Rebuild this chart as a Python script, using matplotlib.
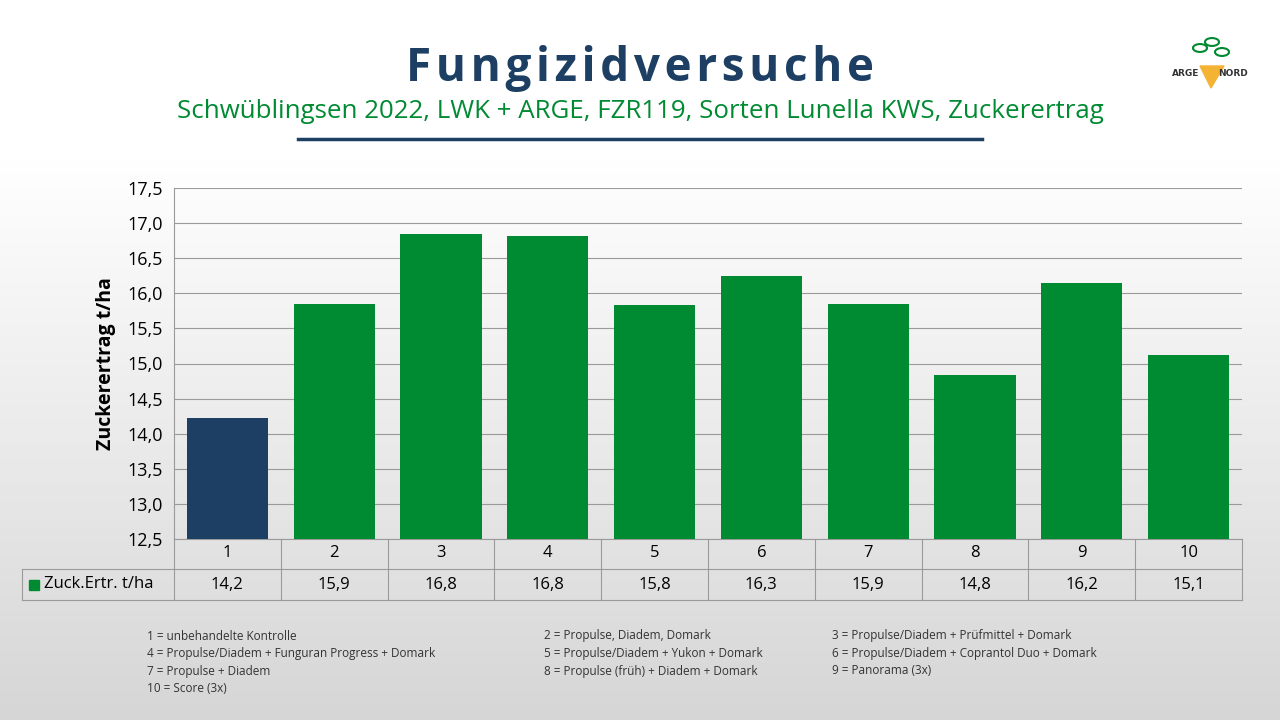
import numpy as np
import matplotlib.pyplot as plt
from matplotlib.lines import Line2D
from matplotlib.patches import Rectangle, Polygon, Circle

categories = ['1', '2', '3', '4', '5', '6', '7', '8', '9', '10']
ertrag = [14.23, 15.85, 16.85, 16.82, 15.84, 16.25, 15.85, 14.83, 16.15, 15.12]
table_labels = ['14,2', '15,9', '16,8', '16,8', '15,8', '16,3', '15,9', '14,8', '16,2', '15,1']
yticks = [12.5, 13.0, 13.5, 14.0, 14.5, 15.0, 15.5, 16.0, 16.5, 17.0, 17.5]
notes = [
    ['1 = unbehandelte Kontrolle', '2 = Propulse, Diadem, Domark', '3 = Propulse/Diadem + Prüfmittel + Domark'],
    ['4 = Propulse/Diadem + Funguran Progress + Domark', '5 = Propulse/Diadem + Yukon + Domark', '6 = Propulse/Diadem + Coprantol Duo + Domark'],
    ['7 = Propulse + Diadem', '8 = Propulse (früh) + Diadem + Domark', '9 = Panorama (3x)'],
    ['10 = Score (3x)', '', ''],
]

GREEN = '#008a32'
NAVY = '#1c3f63'
W, H = 1280, 720

fig = plt.figure(figsize=(12.8, 7.2), dpi=100)

# background: white on top, fading to light grey at the bottom
bg = fig.add_axes([0, 0, 1, 1], zorder=-10)
grad = np.concatenate([np.linspace(0.0, 1.0, 200), np.ones(56)]).reshape(-1, 1)
cmap = plt.matplotlib.colors.LinearSegmentedColormap.from_list('g', ['#d6d6d6', '#ffffff'])
bg.imshow(grad, aspect='auto', cmap=cmap, extent=[0, 1, 0, 1], origin='lower')
bg.axis('off')

def fx(px):
    return px / W

def fy(py):
    return 1 - py / H

fig.text(0.5, fy(68), 'F u n g i z i d v e r s u c h e'.replace(' ', '\u200a'), ha='center', va='center',
         fontsize=33, fontweight='bold', color=NAVY, family='Open Sans')
fig.text(0.5, fy(112), 'Schwüblingsen 2022, LWK + ARGE, FZR119, Sorten Lunella KWS, Zuckerertrag',
         ha='center', va='center', fontsize=18.6, color=GREEN, family='Open Sans')
fig.add_artist(Line2D([fx(298), fx(982)], [fy(139), fy(139)], color=NAVY, lw=2.5))

# logo
fig.add_artist(Polygon([[fx(1200), fy(66)], [fx(1224), fy(66)], [fx(1211), fy(88)]],
                       closed=True, color='#f5b335', transform=fig.transFigure))
for cx, cy in [(1200, 48), (1212, 42), (1222, 52)]:
    fig.add_artist(Circle((fx(cx), fy(cy)), 0.0055, fill=False, ec=GREEN, lw=1.5,
                          transform=fig.transFigure))
fig.text(fx(1186), fy(73), 'ARGE', ha='center', va='center', fontsize=6.5,
         fontweight='bold', color='#333333')
fig.text(fx(1233), fy(73), 'NORD', ha='center', va='center', fontsize=6.5,
         fontweight='bold', color='#333333')

x0, x1 = 174, 1242
ax = fig.add_axes([fx(x0), fy(539), fx(x1) - fx(x0), fy(188) - fy(539)])
colors = [NAVY] + [GREEN] * (len(categories) - 1)
xpos = np.arange(len(categories))
ax.bar(xpos, np.array(ertrag) - 12.5, bottom=12.5, width=0.76, color=colors, zorder=3)
ax.set_xlim(-0.5, len(categories) - 0.5)
ax.set_ylim(12.5, 17.5)
ax.set_yticks(yticks)
ax.set_yticklabels([f'{v:.1f}'.replace('.', ',') for v in yticks], fontsize=13, family='Open Sans')
ax.tick_params(axis='y', length=0, pad=8)
ax.set_xticks([])
ax.grid(axis='y', color='#9a9a9a', lw=0.8, zorder=0)
for s in ['top', 'right']:
    ax.spines[s].set_visible(False)
ax.spines['left'].set_color('#9a9a9a')
ax.spines['bottom'].set_color('#9a9a9a')
ax.set_facecolor('none')
ax.set_ylabel('Zuckerertrag t/ha', fontsize=14, fontweight='bold', family='Open Sans', labelpad=8)

# data table below axes
lc = '#9a9a9a'
fig.add_artist(Line2D([fx(x0), fx(x0)], [fy(539), fy(600)], color=lc, lw=0.8))
fig.add_artist(Line2D([fx(22), fx(22)], [fy(569), fy(600)], color=lc, lw=0.8))
fig.add_artist(Line2D([fx(x1), fx(x1)], [fy(539), fy(600)], color=lc, lw=0.8))
fig.add_artist(Line2D([fx(22), fx(x1)], [fy(569), fy(569)], color=lc, lw=0.8))
fig.add_artist(Line2D([fx(22), fx(x1)], [fy(600), fy(600)], color=lc, lw=0.8))
cw = (x1 - x0) / len(categories)
for i, (c, lab) in enumerate(zip(categories, table_labels)):
    if i > 0:
        xx = x0 + i * cw
        fig.add_artist(Line2D([fx(xx), fx(xx)], [fy(539), fy(600)], color=lc, lw=0.8))
    cx = x0 + (i + 0.5) * cw
    fig.text(fx(cx), fy(553), c, ha='center', va='center', fontsize=12, family='Open Sans')
    fig.text(fx(cx), fy(585), lab, ha='center', va='center', fontsize=12, family='Open Sans')
fig.add_artist(Rectangle((fx(29), fy(590)), fx(10), fy(580) - fy(590), color=GREEN,
                         transform=fig.transFigure))
fig.text(fx(44), fy(584), 'Zuck.Ertr. t/ha', ha='left', va='center', fontsize=12, family='Open Sans')

# footnotes
col_x = [147, 544, 832]
for r, row in enumerate(notes):
    for c, t in enumerate(row):
        if t:
            fig.text(fx(col_x[c]), fy(636 + r * 17.5), t, ha='left', va='center',
                     fontsize=8.5, color='#333333', family='Open Sans')

fig.savefig('out.png', dpi=100)
